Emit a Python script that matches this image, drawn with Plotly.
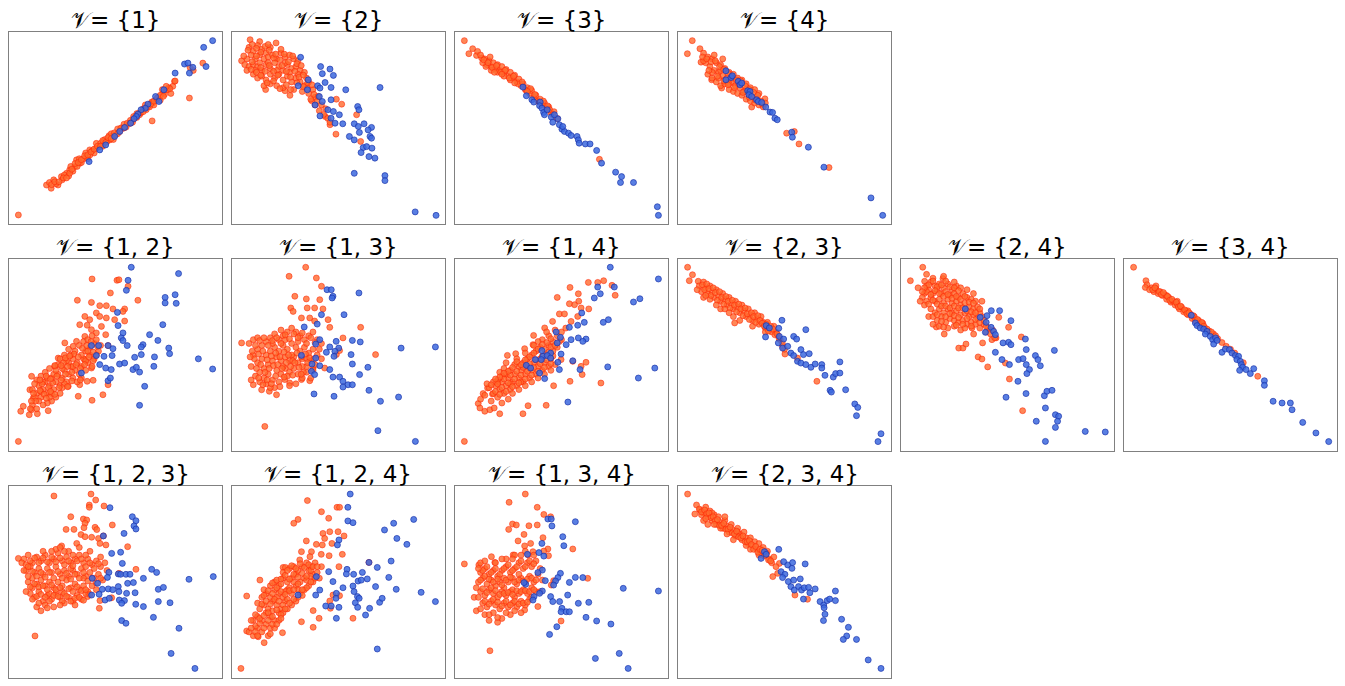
import plotly.graph_objects as go
from plotly.subplots import make_subplots

# panel titles, in grid order
TITLES = ["𝒱= {1}", "𝒱= {2}", "𝒱= {3}", "𝒱= {4}",
          "𝒱= {1, 2}", "𝒱= {1, 3}", "𝒱= {1, 4}", "𝒱= {2, 3}", "𝒱= {2, 4}", "𝒱= {3, 4}",
          "𝒱= {1, 2, 3}", "𝒱= {1, 2, 4}", "𝒱= {1, 3, 4}", "𝒱= {2, 3, 4}"]

# points, [x, y] on a 0-100 scale per panel
V1_ORANGE = [[17.6,20.3],[19,21.6],[19.8,18.6],[23,20.3],[24.6,24.7],[27,26.4],[28.5,28.2],[30.9,29.9],[33.2,31.6],[31.7,33.4],
             [36.3,35.1],[37.9,38.6],[41,39.5],[42.6,40.3],[44.2,42.9],[47.3,43.8],[48.8,45.6],[52,48.2],[53.5,49.9],[56.6,52.5],
             [58.2,54.3],[61.3,56.9],[64.4,59.5],[67.5,63],[69.1,64.7],[72.2,68.2],[74.6,69.9],[76.9,71.7],[77.7,74.3],
             [21,23],[22,21],[25,23],[26,25.5],[28,25],[29,30],[30,27.5],[32,30],[33,34],[34,32],[35,34],[36,37],[37,34],
             [38,36],[39,38],[40,37],[41,42],[43,42],[44,40.5],[45,44],[46,43],[47,46],[48,47],[49,44],[50,46.5],[51,49.5],
             [53,50],[54,52],[55,50.5],[57,54],[58,53],[59,55.5],[60,57.5],[62,58],[63,60],[64,62],[66,61],[67,63.5],[68,62],
             [70,66],[71,64.5],[73,67.5],[75,71],[76,68],[72,70],
             [20,20.5],[21.5,22],[23.5,22],[25.5,24],[27,24],[28.5,26.5],[29.5,28.5],[31,31.5],[32.5,32],[34,33.5],[35.5,35.5],
             [37,36],[38.5,37.5],[40,39],[41.5,40.5],[43,40.5],[44,43.5],[45.5,42.5],[46.5,45],[48,44.5],[49.5,47.5],[51,47],
             [52.5,50],[54,50],[55.5,52.5],[57,52.5],[58.5,56],[60,55.5],[61.5,58],[63,58.5],[65,61],[66.5,62.5],[68,64],
             [69.5,65.5],[71,67],[72.5,66.5],[74,70],[75.5,70.5],
             [4.4,4.7],[84.7,65.6],[67.2,53.7],[91,83.8],[86.5,80],[85,81.5],[78,74.5],[73.8,71.7]]
V1_BLUE = [[95.6,95.5],[91.4,92],[92.5,82],[84.7,78.6],[78,78.6],[82.4,83.3],[84,83.8],[86.3,81.6],[72.7,69.9],[70.4,63.8],
           [68.8,66.4],[65.2,62.4],[64,60.3],[62,59.5],[60.5,57.2],[59.8,56],[58.7,54.8],[57.1,52.5],[54.3,50.3],[52,48.2],
           [49.6,45.6],[45.4,41.2],[42.6,38.6],[37.6,32.5]]

V2_ORANGE = [[4.5,85],[8.5,96],[13,95],[20.7,94.3],[15.8,70],[27.2,67],[24.9,69.4],[49,65],[51.5,62.4],[58.5,56.9],
             [48.8,46.8],[60.4,43],[46,51.7],[43.7,56],[39,62],[37.4,64.2],
             [8,92],[10,90],[12,93],[14,91],[16,89],[18,92],[9,88],[11,86],[13,88],[15,86],[17,87],[19,88],[21,86],[23,89],
             [25,87],[27,88],[29,86],[31,85],[7,86],[6,83],[8,82],[10,83],[12,82],[14,80],[16,83],[18,81],[20,84],[22,82],
             [24,80],[26,83],[28,81],[30,82],[32,80],[34,79],[10,78],[12,76],[14,77],[16,75],[18,78],[20,76],[22,78],[24,75],
             [26,77],[28,74],[30,76],[32,74],[34,72],[36,74],[15,72],[18,73],[21,72],[24,71],[29,70],[33,69],[36,68],[38,70],
             [39,66],[40,64],[42,62],[37,65],[41,59],[43,57],[45,55],[44,60],[46,53],[11,80],[13,84],[17,84],[21,80],[25,84],
             [27,79],[31,78],[35,76],
             [7.5,90.5],[9.5,93.5],[11.5,91.5],[13.5,89.5],[15.5,92.5],[17.5,90.5],[19.5,86.5],[22.5,85.5],[24.5,88.5],
             [26.5,84.5],[28.5,87.5],[30.5,83.5],[32.5,82.5],[9.5,84.5],[11.5,87.5],[13.5,81.5],[15.5,79.5],[17.5,82.5],
             [19.5,79.5],[21.5,77.5],[23.5,82.5],[25.5,79.5],[27.5,76.5],[29.5,79.5],[31.5,76.5],[33.5,77.5],[35.5,73.5],
             [37.5,72.5],[11.5,79],[13.5,77.5],[16.5,73.5],[19.5,74.5],[22.5,70.5],[25.5,72.5],[27.5,70],[30.5,73.5],
             [33.5,71.5],[35.5,70.5],[38.5,67.5],[40.5,66.5],[5.5,87.5],[7,80],[9,80.5],[20.5,88.5],[23,91],[17,93.5]]
V2_BLUE = [[32.2,86.8],[41.6,82],[46,80.7],[42.4,78.3],[43.7,73.7],[47.6,77.4],[53.4,69.9],[69.5,71.1],[35.8,75.1],[31.1,72],
           [40.2,72],[41.3,70.8],[35.4,69.9],[46.5,71.1],[41,66.4],[46.5,64.7],[39,62],[42.4,63.8],[45,59.5],[47.6,58.6],
           [41.3,56.3],[46.5,55.1],[50.4,56.9],[59,61.2],[59.6,59.5],[48.4,52.5],[52,52.2],[57.4,52.2],[59.3,50.8],[62,52.2],
           [65.5,50.3],[63.9,49],[55.1,45.6],[59.8,47.7],[64.8,45.6],[65.5,44.7],[57.4,43.8],[61.6,39.8],[63.2,40.3],[65.7,39.5],
           [60.6,37.2],[64.3,35.1],[67.1,34.3],[57.4,26.4],[71.8,25.2],[71.8,22.6],[86,6.3],[95.8,4.5]]

V3_ORANGE = [[4.4,95.5],[6.5,88.7],[8.3,91.3],[10.1,87.8],[10.6,89.9],
             [14,86],[15,83],[16,85],[17,82],[18,84],[19,81],[20,83],[21,80],[22,82],[23,79],[24,80.5],[25,77],[26,79],[27,76],
             [28,77.5],[29,74],[30,75.5],[31,72],[32,73],[33,70],[34,71],[35,68],[36,69.5],[37,66],[38,67],[39,64],[40,65],
             [41,62],[42,63],[43,60],[44,61],[45,58],[14.5,82],[17,80],[20,79],[23,77],[26,75],[12.5,86.5],[13,84],
             [13.5,85.5],[15.5,84],[17.5,81.5],[19.5,82.5],[21.5,79],[23.5,80],[25.5,76],[27.5,77],[29.5,73],[31.5,74],
             [33.5,69.5],[35.5,70.5],[37.5,67.5],[39.5,63.5],[41.5,64],[43.5,61.5],[44.5,59.5],[46.5,58.5],[16.5,87],[12,88],
             [22,78],[28,73.5],[34,69],[18.5,79],
             [67.8,33.7],[48,55],[46,57]]
V3_BLUE = [[31.9,71.3],[33.5,66.8],[36.1,64.7],[37,63.5],[40,63.5],[39.7,61.6],[40.8,60.3],[41.6,58.1],[43.3,59.5],[45.2,55.7],
           [45.9,53],[48.3,54.8],[49,51.7],[50.2,49.4],[51.4,48.2],[53.3,47.3],[54.5,46.1],[57.3,45.6],[57.9,43.8],[58.3,42.1],
           [61.2,41.7],[63.4,41.7],[66.5,38.3],[68.8,31.7],[75.4,27],[78.2,24.7],[77.7,21.6],[83.8,21.6],[95,9],[95.5,4.5],
           [42,56.9],[50.6,50.8],[46.7,56.9]]

V4_ORANGE = [[6.7,95.5],[4.4,88.7],[10.3,91.3],[10.8,84.3],[15.8,75.1],[20.5,70.8],[34.6,60.9],[40.8,65.2],[51,47.3],
             [54.6,48.2],[56.8,41.7],[70.9,29.4],
             [12,89],[14,87],[16,86],[18,84],[20,83],[22,81],[24,79],[26,78],[28,76],[30,75],[32,73],[34,71],[36,70],[38,68],
             [13,84],[15,82],[17,80],[19,79],[21,77],[23,76],[25,74],[27,72],[29,71],[31,69],[33,68],[35,66],[14,78],[16,76],
             [18,74],[20,72],[22,73],[24,70],[26,69],[28,68],[30,67],[32,65],[34,64],[36,63],[38,62],[40,61],[16,79],[19,76],
             [22,75],[25,77],[29,73],[12,85],[17,88],[21,86],[37,65],[39,64],[41,63],[11.5,87],[20,80],[24,73],[28,74],[32,70],
             [13.5,86],[15.5,84.5],[17.5,85],[19.5,82],[21.5,80.5],[23.5,78.5],[25.5,76],[27.5,75],[29.5,74.5],[31.5,72],
             [33.5,70],[35.5,68.5],[37.5,67],[14.5,80],[18.5,77],[21.5,74.5],[23.5,72.5],[26.5,71],[30.5,68.5],[33.5,66],
             [36.5,64.5],[39.5,62.5]]
V4_BLUE = [[22.5,79.8],[22.5,75.1],[24.9,76.3],[25.5,77.2],[28.3,74.3],[29.1,72.5],[29.9,73.4],[32.7,69.4],[33.8,69],
           [33.3,67.3],[36.9,64.7],[37.7,63.8],[39.3,63.3],[41.2,60.9],[43.2,58.3],[44.4,58.1],[45.5,55.1],[46.6,54.3],
           [53.4,47.8],[53.7,45.2],[61.2,40],[68.5,29.6],[90.6,13.6],[96.1,4.5],[34.6,66.4]]

V12_ORANGE = [[4.4,5],[5.5,20.7],[6.7,23.3],[9.5,18.9],[10.6,21.5],[13.3,19.4],[18.4,21],[9.8,31.9],[10.6,38.9],[11.4,27.6],
              [39,89.6],[50.7,88.9],[51.6,89.2],[55.9,85.8],[47.6,82.3],[32.1,78.5],[38.7,77.4],[42.6,75.7],[45.7,75.7],
              [48.8,74],[54.3,74],[53.5,72.7],[60.5,78.5],[41,71.9],[35.6,70.1],[37.9,68.4],[42.6,70.1],[45.7,69.3],[49.6,68.4],
              [54.3,67.7],[33.2,65.8],[36.7,65.5],[43.4,64.9],[38.7,63.2],[41,61.5],[45.4,60.6],[35.6,59.7],[31.7,57.1],
              [26.2,56.3],[30.1,54.5],[23.1,48.4],[21.5,44.1],[35.6,47.6],[38.7,43.2],[39.5,36.8],[36.7,36.3],[32.5,28.5],
              [39,26.4],[44.1,29.3],[46.5,34.5],[33.2,34.5],[27.8,33.7],[46.5,54.9],
              [13,30],[15,28],[14,34],[16,32],[18,30],[17,36],[19,34],[21,32],[20,38],[22,36],[24,34],[23,40],[25,38],[27,36],
              [26,42],[28,40],[30,38],[29,44],[31,42],[33,40],[32,46],[34,44],[36,42],[35,48],[37,46],[39,44],[38,50],[40,48],
              [34,50],[36,52],[38,54],[40,56],[42,52],[30,48],[28,46],[26,35],[24,30],[22,28],[20,26],[18,25],[16,24],[14,26],
              [12,28],[11,32],[13,37],[15,39],[17,41],[19,43],[21,40],[23,45],[25,43],[27,47],[29,50],[31,52],[33,55],[35,57],
              [37,58],[39,60],[41,58],[43,55],[11,24],[10,22],[13,22],[16,36],[18,38],[20,30],[22,42],[24,48],[26,50],[28,53],
              [32,36],[34,38],[36,47],[41,50],[37,52],[30,44],[25,33],[19,28],[15,31],[12,35],
              [12.5,26],[14.5,31.5],[16.5,29.5],[18.5,33],[17.5,27.5],[20.5,35.5],[21.5,29.5],[23.5,33],[22.5,39],[24.5,37],
              [26.5,40],[25.5,46],[27.5,44],[29.5,41],[31.5,45],[33.5,43],[35.5,45],[30.5,50.5],[32.5,49],[34.5,53.5],
              [36.5,55],[38.5,57],[39.5,51.5],[37.5,49],[33.5,37],[29.5,36.5],[27.5,33.5],[19.5,31],[15.5,35],[14.5,37],
              [17.5,39],[19.5,37.5],[21.5,44.5],[26.5,48.5],[28.5,49.5],[41.5,54.5],[39.5,47],[24.5,44.5],[11.5,30],[10.5,26]]
V12_BLUE = [[57.4,95.7],[79.6,92.4],[55.9,88.9],[55.1,83.7],[73.3,80],[78,81.4],[73.3,77.1],[78.5,76.9],[50.9,72.2],[72.2,65.8],
            [51.2,65.3],[53.5,61.5],[52.7,58.9],[53.5,57.5],[66,60.6],[69.9,57.6],[38.7,54.9],[42.1,54.9],[46.5,54.9],
            [48.8,53.3],[55.5,54.9],[62.9,55.4],[62.1,54.2],[75,53.6],[75.4,50.7],[41,49.7],[44.6,49.3],[48.4,49.7],[59,48.8],
            [62.1,50.2],[68.3,49],[88.9,48],[95.6,42.7],[42.6,45],[45.4,43.2],[48,42.4],[51.9,45.3],[54.3,45.8],[58.2,42.4],
            [59.8,43.6],[61.3,41.1],[68,44.1],[34,40.6],[46.5,36.6],[47.6,38],[63.7,33.7],[61.3,23.8]]

V13_ORANGE = [[4.5,56.3],[34.6,95.7],[26.8,91],[39.6,90.1],[42,85.8],[29.5,80.6],[34.9,79.2],[41.2,78.8],[38.8,74.5],
              [35.3,74.5],[27.6,74.5],[28.7,72.7],[42.7,74],[45.1,68.4],[36.5,69.3],[32.6,69.3],[38.8,67.7],[45.9,64.4],
              [60.4,64.4],[52.1,58.9],[67.4,50.2],[49,50.2],[50.5,52.3],[15.4,12.8],[10,34.5],[13.9,31.9],[17.5,31.1],
              [20.9,29.3],[24.8,37.2],[27.1,35.4],[32.6,37.2],[36.5,36.6],[43.5,43.2],[38.1,43.2],
              [10,50],[12,53],[14,55],[16,57],[18,59],[20,61],[22,58],[24,60],[26,62],[28,64],[30,62],[32,60],[34,58],[36,60],
              [38,62],[40,58],[42,56],[12,46],[14,48],[16,50],[18,52],[20,54],[22,52],[24,55],[26,53],[28,56],[30,54],[32,52],
              [34,54],[36,51],[38,53],[40,50],[42,48],[13,41],[15,43],[17,45],[19,47],[21,49],[23,47],[25,49],[27,47],[29,49],
              [31,46],[33,48],[35,44],[37,47],[39,45],[11,39],[13,36],[15,38],[17,40],[19,37],[21,42],[23,40],[25,43],[27,41],
              [29,43],[31,40],[33,38],[35,41],[37,38],[9,44],[8,56],[10,58],[20,33],[22,36],[26,39],[30,35],[18,33],[16,35],
              [24,44],[28,50],[19,56],[23,63],[31,57],[35,48],[9,37],[12,59],[25,58],[33,44],[38,42],[27,34],
              [11,55],[13,57.5],[15,59],[17,55],[19,57.5],[21,59],[23,56],[25,60.5],[27,58.5],[29,61],[31,59],[33,61.5],
              [35,56],[37,59],[39,56.5],[41,53],[10.5,48],[12.5,50.5],[14.5,52],[16.5,47.5],[18.5,49.5],[20.5,51],[22.5,49],
              [24.5,51.5],[26.5,50],[28.5,47],[30.5,51],[32.5,49],[34.5,50.5],[36.5,48.5],[38.5,48],[11.5,43],[13.5,45],
              [15.5,41],[17.5,43],[19.5,44.5],[21.5,45],[23.5,43],[25.5,46],[27.5,44],[29.5,46],[31.5,43.5],[33.5,41],
              [35.5,46],[12.5,38],[16.5,37],[20.5,39],[24.5,38.5],[28.5,39.5],[32.5,40],[18.5,35],[22.5,33.5],[14.5,34.5],
              [9.5,52],[8.5,49]]
V13_BLUE = [[44.6,84],[46.6,84],[47.4,80.6],[47,79.7],[59.6,82.3],[52.6,71],[42,71],[40,66.1],[33.9,64.6],[48.9,57.1],
            [56.5,57.6],[60.2,56.8],[41.2,58],[39.3,55.7],[45.9,54.2],[50.1,53.6],[48.3,51.9],[44.3,51.4],[55.9,50.2],
            [47.9,49.3],[32.6,49.8],[39.3,48.4],[37.6,45.3],[41.2,44.4],[45.9,42.4],[37.3,41.5],[38.8,39.8],[47.4,38.5],
            [50.5,38.5],[56.5,45.3],[63.8,43.6],[59.9,39.8],[52.1,36.3],[54.5,34.5],[56.5,34.5],[52.1,33.3],[64.3,31.6],
            [38.5,29.7],[47.9,28.5],[69.7,25.9],[78.2,28.1],[79.4,53.6],[95.5,54.2],[68.5,10.6],[86.1,5]]

V14_ORANGE = [[4.4,5],[10.9,24.7],[11.7,22.4],[14,20.7],[16.4,21.5],[18.4,22.4],[21,19.4],[31.9,19.4],[34.3,23.6],
              [42.8,23.8],[46.3,34],[54,36.3],[59.7,39.8],[61.5,46.2],[68.5,35.4],[20.2,35.8],[15.3,32.8],[13.2,29.9],
              [17.6,29.7],[24.6,49.8],[28.5,50.7],[32.7,53.3],[36.9,60.2],[42.1,64.1],[48,80],[54,85.2],[57.9,81.9],[58.1,78],
              [62.6,87.8],[67,87.8],[69.8,88.7],[73.7,86.3],[75.2,81.1],[62.8,74],[59.2,74.5],[56.1,76.2],[53.7,76.7],[49,71.4],
              [51.4,71.4],[45.8,67.5],[57.6,70.1],[54.5,67.5],[36.6,55.4],[32.7,43.6],[49.8,47.6],[55.3,46.7],[59.2,44.1],
              [18,30],[20,28],[19,34],[21,32],[23,30],[22,36],[24,34],[26,32],[25,38],[27,36],[29,34],[28,40],[30,38],[32,36],
              [31,42],[33,40],[35,38],[34,44],[36,42],[38,40],[37,46],[39,44],[41,42],[40,48],[42,46],[44,44],[43,50],[45,48],
              [46,52],[44,55],[42,53],[40,54],[38,52],[36,50],[34,48],[32,46],[30,44],[28,45],[26,42],[24,40],[22,39],[20,37],
              [18,36],[16,33],[15,35],[17,26],[22,25],[25,27],[27,30],[30,32],[33,34],[36,36],[39,38],[42,40],[45,42],[47,45],
              [46,57],[48,60],[44,60],[41,58],[39,57],[47,63],[50,62],[52,64],[50,58],[48,54],[43,62],[21,41],[24,46],[29,48],
              [33,51],[12,27],[14,29],[37,55],[35,43],[31,36],[26,35],[23,43],
              [19,31],[21,29.5],[20,35],[22,33],[24,31],[23,37.5],[25,35.5],[27,33.5],[26,39.5],[28,37.5],[30,35.5],[29,41.5],
              [31,39.5],[33,37.5],[32,43.5],[34,41.5],[36,39.5],[35,45.5],[37,43.5],[39,41.5],[38,47.5],[40,45.5],[42,43.5],
              [41,49.5],[43,47.5],[45,45.5],[44,51.5],[46,49.5],[45,54],[43,56.5],[41,55.5],[39,53],[37,51],[35,49],[33,47.5],
              [31,45],[29,46.5],[27,43.5],[25,41.5],[23,40.5],[21,38.5],[19,37.5],[17,34.5],[47,55],[49,57],[45,58.5]]
V14_BLUE = [[72.9,95.7],[95.5,89.6],[67,85.4],[74.8,85.4],[65.4,79.7],[68.2,81.9],[86.8,79.3],[83.8,77.6],[59.5,71.9],
            [60.7,67],[72,68.4],[69.6,67],[53.7,64.4],[57.6,65.5],[47.5,62],[49.5,59.2],[48,56.3],[54.5,58],[57.9,58.9],
            [61.5,58.3],[60,57.1],[52.2,55.4],[40.8,52.3],[44.9,51],[41.3,49.3],[43.3,49.7],[49.8,50.5],[37.7,47.6],
            [40.5,47.6],[44.9,48.4],[33.5,44.6],[35.5,43.2],[39.7,40.6],[48.3,46.2],[55.3,47],[49,42.4],[42.1,37.7],
            [58.7,42.4],[71.7,43.8],[93.8,43.2],[86.1,38],[53,25.5]]

V23_ORANGE = [[4.5,95.7],[6.8,91.8],[5.3,88.7],[9.5,88.4],[26.6,66.7],[49.1,54.5],[65.2,36.3],[50.2,50.5],[56.1,48.4],
              [10,86],[11,83],[12,88],[13,85],[14,82],[15,86],[16,83],[17,80],[18,84],[19,81],[20,78],[21,82],[22,79],[23,76],
              [24,80],[25,77],[26,74],[27,78],[28,75],[29,72],[30,76],[31,73],[32,70],[33,74],[34,71],[35,68],[36,72],[37,69],
              [38,66],[39,70],[40,67],[41,64],[42,67],[43,64],[44,62],[45,65],[46,62],[47,60],[48,58],[12,80],[20,74],[26,70],
              [9,84],[15,79],[22,74],[29,68],[35,65],[41,62],[49,56],[50,53],
              [11.5,86.5],[12.5,84],[13.5,87],[14.5,84.5],[15.5,81],[16.5,85],[17.5,82.5],[18.5,78.5],[19.5,83],[20.5,80],
              [21.5,76.5],[22.5,80.5],[23.5,78],[24.5,74.5],[25.5,78.5],[26.5,76],[27.5,72.5],[28.5,76.5],[29.5,74],
              [30.5,70.5],[31.5,74.5],[32.5,71.5],[33.5,68.5],[34.5,72],[35.5,70],[36.5,67],[37.5,70.5],[38.5,68],
              [39.5,66.5],[40.5,65],[41.5,66],[42.5,62.5],[43.5,65],[44.5,63.5],[45.5,60.5],[46.5,61],[47.5,58.5],[13,81],
              [18,76],[24,72]]
V23_BLUE = [[48.8,68.1],[60,63.2],[41.4,65.3],[42.9,64.1],[47.3,63.9],[41.1,59.4],[47.6,59.7],[49.6,58.3],[54.3,59.7],
            [55.7,58.3],[47.1,56.3],[49.1,53.6],[51.5,54.5],[53,51],[54.3,49.7],[57.7,52.8],[58.9,50.2],[61.6,50.7],
            [56.1,46.7],[57.7,45.8],[60,45],[62.4,43.6],[64.4,45.3],[67.5,45],[67.5,43.2],[76,46.4],[69,39.4],[72.9,38.5],
            [74,40.3],[76,40.6],[71.4,31.6],[72,30.7],[78.7,31.9],[83,24.5],[84.4,22.7],[83.8,18.4],[95.3,9],[93.9,4.9]]

V24_ORANGE = [[4.4,88.7],[10.2,95.7],[11.1,88.4],[19.7,89.8],[16.6,64.6],[20.3,60.9],[27.1,53.6],[29.1,53.6],[30.5,55.7],
              [36.2,49],[38,47.9],[40.7,43.8],[50.5,64.4],[45.9,69.6],[56.5,59.4],[49,45.8],[50.9,37.5],[57.1,21],[34.1,60.9],
              [33.3,64.1],[38.3,56.3],[42.7,58],[44.6,58.9],
              [12,86],[14,88],[16,86],[18,87],[20,85],[22,87],[24,84],[26,86],[11,82],[13,84],[15,82],[17,84],[19,82],[21,83],
              [23,81],[25,82],[27,80],[29,82],[31,80],[33,79],[35,78],[12,78],[14,80],[16,78],[18,79],[20,77],[22,79],[24,77],
              [26,78],[28,76],[30,77],[32,75],[34,74],[36,75],[14,74],[16,72],[18,74],[20,72],[22,74],[24,72],[26,73],[28,71],
              [30,72],[32,70],[34,71],[36,69],[38,70],[17,68],[19,70],[21,67],[23,69],[25,68],[27,67],[29,68],[31,66],[33,67],
              [35,66],[37,64],[39,66],[41,64],[40,62],[42,61],[43,63],[10,80],[11,76],[13,70],[15,66],[18,65],[22,64],[25,65],
              [28,63],[30,64],[8,85],[9,78],[12,92],[15,90],[20,91],[25,88],[28,85],[31,84],[34,82],[37,72],[38,78],[44,59],
              [13,86.5],[15,88.5],[17,85.5],[19,86.5],[21,88.5],[23,85.5],[25,85],[27,83.5],[12,83],[14,81.5],[16,83.5],[18,82],
              [20,80.5],[22,81.5],[24,79.5],[26,80.5],[28,79],[30,80.5],[32,77.5],[34,77],[13,76.5],[15,78.5],[17,76.5],
              [19,75.5],[21,75.5],[23,74.5],[25,75.5],[27,74.5],[29,74.5],[31,73],[33,72.5],[35,72],[37,74],[15,70],[17,71],
              [19,67.5],[21,70],[23,71.5],[25,70.5],[27,69.5],[29,66],[31,69],[33,65],[35,68.5],[37,67],[39,68],[40,65],
              [20,64.5],[26,65.5],[11,85],[10,83]]
V24_BLUE = [[30.2,74],[37.2,69.6],[40.4,70.5],[42.4,73.1],[46.3,73.1],[40,67],[42.3,64.4],[39.6,61.8],[43.5,62.3],
            [44.3,60.6],[51.6,67.9],[58.4,58.3],[50.5,56.6],[47.9,56.3],[51.6,55.4],[58.8,52.8],[72,52.4],[44.3,51.4],
            [47.4,47.6],[55.2,47.6],[57.3,48.1],[58.8,45],[63.1,49.7],[64.3,47.6],[65.4,44.4],[50.9,45],[60.3,42.4],
            [59.1,40.3],[54.9,36.3],[58.7,29.9],[49.3,28],[67.3,28.8],[68.5,31.1],[70.9,31.6],[67.8,22.4],[72.5,18.9],
            [74,18.1],[73.5,15.5],[72.5,12.3],[63.5,15.5],[67.8,5],[86.5,10.2],[95.9,9.9]]

V34_ORANGE = [[4.5,95.7],[10.3,88.7],[10.8,86.6],[10,85.2],
              [13,85],[14,83],[15,84.5],[16,82],[17,83],[18,81],[19,81.5],[20,79],[21,80],[22,77.5],[23,78],[24,76],[25,76.5],
              [26,74],[27,75],[28,72.5],[29,73],[30,71],[31,71.5],[32,69],[33,70],[34,67.5],[35,68],[36,66],[37,66.5],[38,64],
              [40,62.5],[42,61],[44,58.5],[46,56.5],[48,54.5],[50,53],[52,51],[15,86],[12,84],[20,81],[25,78],[30,73],[35,66],
              [13.5,84],[14.5,85],[16.5,83],[17.5,81.5],[18.5,82.5],[20.5,80.5],[21.5,78.5],[22.5,79],[24.5,77.5],[25.5,75],
              [26.5,75.5],[28.5,73.5],[29.5,71.5],[30.5,72],[32.5,70.5],[33.5,68],[34.5,68.5],[36.5,67],[37.5,65],[39,63.5],
              [41,62],[43,60],
              [62.8,38.9],[56,46]]
V34_BLUE = [[31.6,70.7],[33.5,66.7],[34.3,65.3],[35.8,64.1],[37.4,63.5],[39,62.3],[38.2,60.9],[40.5,59.7],[41.6,58],
            [43,58.9],[42.1,55.7],[43.7,57.6],[46,51.4],[47.6,53.1],[49.5,52.8],[50.7,51],[52.3,49.7],[53.8,49.3],[53,47.6],
            [54.6,46.7],[55.1,45],[55.7,43.6],[54.3,42],[57.3,42.4],[59.3,40.3],[60.9,42.9],[65.9,36.6],[65.9,34.2],
            [70,25.9],[74.2,25],[78.1,25],[78.9,21.5],[83.9,14.9],[90.1,9.4],[96.1,4.9]]

V123_ORANGE = [[21.1,94.8],[38.5,95.8],[40.7,92.7],[37.7,90.1],[37.7,88.9],[44.6,89.6],[29,84],[34.9,82.8],[36.5,82.3],
               [35.7,80.6],[35.2,78.3],[26.8,77.4],[30.5,77.4],[40.4,78.5],[41.2,77.3],[48.5,79.7],[33.8,74.7],[35.7,73.6],
               [38.8,73.3],[42,72.7],[44.3,74],[42.7,70.1],[45.5,69.3],[55.7,68.4],[31.8,70.1],[24.7,68.8],[4.4,62.3],
               [12.2,21.9],[42.4,36.3],[42.7,40.3],[59.6,56.6],[51.6,54.5],[36.9,42.4],[48.2,41.8],
               [7,62],[9,64],[11,60],[13,63],[15,61],[17,64],[19,60],[21,62],[23,65],[25,61],[27,63],[29,60],[31,62],[33,64],
               [35,60],[37,62],[39,59],[41,61],[43,58],[45,60],[8,56],[10,58],[12,55],[14,57],[16,54],[18,57],[20,55],[22,58],
               [24,54],[26,56],[28,53],[30,56],[32,54],[34,57],[36,53],[38,55],[40,52],[42,54],[44,51],[9,50],[11,52],[13,49],
               [15,51],[17,48],[19,50],[21,47],[23,50],[25,48],[27,51],[29,47],[31,49],[33,46],[35,48],[37,45],[39,48],[41,46],
               [10,44],[12,42],[14,45],[16,40],[18,43],[20,41],[22,44],[24,42],[26,39],[28,42],[30,40],[32,43],[34,41],[36,44],
               [13,37],[15,35],[17,38],[21,37],[31,38],[28,66],[22,67],[16,66],[33,68],[38,66],[8,45],[6,60],[25,45],[19,44],
               [43,63],[46,56],[11,47],[29,57],[35,52],
               [8,59],[10,61],[12,62.5],[14,60],[16,62.5],[18,60.5],[20,63],[22,60.5],[24,62.5],[26,59],[28,61],[30,58.5],
               [32,61],[34,62],[36,58],[38,60],[40,57],[42,59.5],[9,53],[11,55.5],[13,53],[15,55],[17,52.5],[19,55],[21,52],
               [23,55.5],[25,52],[27,54.5],[29,51.5],[31,54],[33,52],[35,55],[37,50.5],[39,52],[41,49.5],[43,52],[10,47.5],
               [12,49],[14,47.5],[16,48],[18,46],[20,48.5],[22,46],[24,47],[26,44],[28,46.5],[30,45],[32,47.5],[34,45.5],
               [36,46],[38,43.5],[11,41],[13,42.5],[15,43.5],[17,42],[19,40],[21,43],[23,42.5],[25,40],[27,42.5],[29,40],
               [31,41.5],[33,42],[35,40.5],[14,39],[18,36.5],[24,38],[9,58],[7,56],[20,66],[26,66],[30,64],[36,64],[24,68]]
V123_BLUE = [[47.4,88.7],[57.9,84],[59.6,81.9],[58.7,79.2],[59.6,77.6],[54,75.3],[44.3,74],[48.2,64.9],[52.4,65.5],
             [53.2,59.7],[46.9,55],[51.3,54.2],[52.4,54],[54.9,54],[56.8,54],[63.1,51.9],[67,56.6],[69.3,55],[84.5,51.4],
             [95.9,52.8],[39.1,51.9],[41.6,49.3],[46.2,52.4],[55.7,49.3],[58.4,49.7],[43.8,46.2],[46.6,46.4],[48.7,46],
             [51.3,47.6],[51.6,45],[55.2,44.1],[59.2,44.4],[38.8,43.2],[42.3,43.6],[45.1,40.6],[47.1,41.5],[51.8,40.6],
             [54.2,40.3],[52.9,38.9],[59.5,38.4],[63.1,37.2],[70.1,46.2],[72.5,47.2],[70.1,39.8],[75.6,39.2],[67.8,31.6],
             [52.9,29.9],[54.9,28.5],[79.8,25.9],[76.1,12.8],[87.3,5]]

V124_ORANGE = [[4.2,5],[35.4,92.4],[49.3,88.9],[50.5,88.9],[42,86.6],[45.4,83.2],[31,82.6],[29,80.6],[52.6,74],[49.8,76.2],
               [45.9,76.2],[42.7,75.3],[43.5,72.7],[46.9,70.1],[34.9,71.4],[39.6,69.6],[42.4,69.3],[51.8,64.4],[45.6,63.7],
               [41.9,64.4],[37.3,65.8],[32.6,65.8],[36.6,63.2],[31.8,61.5],[50.2,58],[64.3,60.2],[24,57.6],[25.1,57.6],
               [13.1,51],[6.9,42.7],[56.8,31.1],[32.6,29.3],[38.1,26.4],[40.9,31.1],[38.1,35.1],[46.2,36.3],[45.9,40.1],
               [47.4,43.2],[50.5,42.9],[23.7,23.6],[15.1,18.4],[12.3,21.5],[6.9,24.5],
               [8,24],[10,22],[12,26],[14,24],[16,28],[18,26],[10,30],[12,32],[14,30],[16,34],[18,32],[20,30],[22,34],[13,36],
               [15,38],[17,36],[19,40],[21,38],[23,36],[25,40],[14,42],[16,44],[18,42],[20,46],[22,44],[24,42],[26,46],[28,44],
               [30,48],[18,48],[20,50],[22,48],[24,52],[26,50],[28,52],[30,54],[32,50],[34,52],[36,56],[38,54],[24,55],[27,57],
               [29,58],[31,56],[33,58],[35,60],[37,58],[39,60],[40,55],[38,50],[36,48],[34,46],[32,44],[30,40],[28,38],[26,36],
               [24,34],[22,30],[20,26],[17,22],[11,27],[9,30],[15,46],[12,39],[27,47],[33,43],[35,51],[41,52],[42,58],[25,45],
               [21,42],[19,35],[29,50],[31,46],[37,53],[23,49],
               [9,26],[11,24],[13,28.5],[15,26],[17,30],[19,28],[11,33],[13,31],[15,32.5],[17,34],[19,32],[21,35.5],[23,33],
               [14,38.5],[16,40],[18,38.5],[20,41],[22,40],[24,38],[26,41],[15,43],[17,45.5],[19,44],[21,47],[23,45],[25,43.5],
               [27,45.5],[29,46],[31,49],[19,49.5],[21,51],[23,51.5],[25,53.5],[27,51.5],[29,54],[31,52.5],[33,54.5],[35,53],
               [37,56],[26,56],[28,58.5],[30,57],[32,59.5],[34,57.5],[36,59],[38,58],[40,58],[39,52],[37,50],[35,47],[33,46],
               [31,42],[29,41],[27,39],[25,36],[23,31],[21,28],[18,23],[12,22]]
V124_BLUE = [[55.5,95.8],[54.4,88.9],[54.4,81.8],[56.8,80.9],[85.3,82.6],[75.9,80.6],[71.6,77.1],[77.4,72.7],[82.1,69.6],
             [50.2,71.9],[49.5,69.3],[64.3,60.2],[68.2,57.6],[74.7,60.9],[73.6,52.4],[54,56.6],[53.7,54.2],[57.1,54],
             [61.2,55],[45.4,55.4],[39.6,52.8],[47.4,50.2],[56.8,47.9],[59.2,50.5],[60.7,51],[63.5,51.6],[67.4,47.6],
             [77.1,46.2],[88.8,44.6],[95.5,39.8],[41.2,45.8],[49,44.1],[52.1,47],[57.3,45],[58.9,42.4],[59.7,41.5],[48.8,41.5],
             [57.9,39.2],[59,36.8],[64.6,36.3],[69.3,39.4],[70.5,41.5],[44,37.5],[46.6,37.5],[50.2,36.8],[49,31.1],[62.7,32.8],
             [68.2,15.1],[39.3,43.2],[31,43.2]]

V134_ORANGE = [[33,95.8],[25.4,91.5],[38.6,88.9],[41.7,85.2],[44.9,84],[27,80.2],[25.2,77.4],[28.8,79.7],[34.7,79.3],
               [38.6,79.7],[32.4,74.8],[29.6,71.4],[41.3,73.1],[32.7,68.8],[35.5,70.1],[43.6,67.2],[55.3,67.2],[41.7,66.1],
               [43.9,63.7],[27.3,64.1],[34.3,64.1],[36.6,65.8],[4.4,59.4],[11.2,58.9],[17.1,63.2],[18.7,60.2],[16.4,14.2],
               [49.8,29.7],[62.3,51.9],[46.3,50.7],[45.2,48.4],[38.9,37.2],[32.7,35.4],
               [12,55],[14,57],[16,54],[18,56],[20,53],[22,56],[24,58],[26,55],[28,57],[30,60],[32,57],[34,60],[36,58],[38,61],
               [11,50],[13,52],[15,49],[17,51],[19,48],[21,50],[23,47],[25,50],[27,52],[29,49],[31,52],[33,50],[35,53],[37,50],
               [39,54],[12,45],[14,43],[16,46],[18,44],[20,42],[22,45],[24,43],[26,45],[28,42],[30,44],[32,46],[34,44],[36,47],
               [38,45],[13,39],[15,37],[17,40],[19,38],[21,36],[23,39],[25,37],[27,39],[29,37],[31,40],[33,38],[35,41],[10,35],
               [14,33],[18,34],[22,31],[26,33],[16,30],[20,29],[24,62],[28,64],[33,66],[37,64],[40,57],[41,51],[9,42],[10,47],
               [12,60],[19,60],[23,52],[30,54],[36,42],[40,45],[27,46],[31,34],
               [13,56],[15,58],[17,55],[19,57],[21,54],[23,57],[25,59],[27,56],[29,58],[31,61],[33,58],[35,61],[37,59.5],
               [12,51],[14,53],[16,51.5],[18,50],[20,51.5],[22,48.5],[24,51],[26,52.5],[28,50],[30,51],[32,50.5],[34,51.5],
               [36,52],[38,51],[13,46.5],[15,44.5],[17,47],[19,45.5],[21,43.5],[23,44],[25,44.5],[27,43.5],[29,45.5],[31,45],
               [33,45.5],[35,45],[37,46],[14,40],[16,38.5],[18,41],[20,39.5],[22,37.5],[24,40],[26,38],[28,40],[30,38.5],
               [32,39],[34,39.5],[12,36],[16,33],[20,31.5],[24,34],[28,35],[11,42],[11,57],[14,61],[22,62],[27,62],[31,64]]
V134_BLUE = [[43.6,82.8],[45.2,82.8],[45.5,79.2],[56.5,81.4],[50.6,73.6],[51.1,68.9],[40.8,70.1],[39.4,65.3],[34,64.4],
             [41.7,63.5],[41,56.2],[38.9,54.9],[33.2,48.8],[49.5,54.5],[48.3,52.3],[47.2,50.5],[42.4,50.7],[53.7,49.8],
             [56.5,52.4],[60,52.3],[41,45.3],[46.3,48.4],[39.7,44.1],[37.1,42.4],[36.6,40.6],[44.9,42.4],[45.9,39.8],
             [49.1,39.8],[52.9,43.2],[50.2,36.3],[49.8,34.5],[52.2,34.5],[53.7,34.5],[57.9,38.9],[62.8,39.4],[61.5,31.6],
             [66.5,29.7],[73.2,28.1],[47.8,26.7],[44.4,22.7],[79,46.7],[95.5,45.3],[77.1,12.8],[65.9,10.2],[81.3,5],[32.4,49.7]]

V234_ORANGE = [[4.5,95.8],[8.7,90.1],[10.3,87.5],[7.9,85.4],[44.5,52.8],[46.8,54.5],[54.9,43.2],[60.8,41],[47.6,59.7],
               [10,88],[12,86],[13,89],[14,84],[15,87],[16,82],[17,85],[18,80],[19,84],[20,81],[21,78],[22,82],[23,79],[24,76],
               [25,80],[26,77],[27,74],[28,78],[29,75],[30,72],[31,76],[32,73],[33,70],[34,73],[35,69],[36,71],[37,67],[38,70],
               [39,65],[40,68],[41,64],[42,66],[43,62],[44,60],[45,63],[12,82],[14,80],[20,78],[26,72],[32,69],[38,64],[46,58],
               [11,85],[16,86],[22,84],[28,76],[34,67],
               [11,86.5],[12.5,87.5],[13.5,85.5],[14.5,86],[15.5,83.5],[16.5,84],[17.5,82],[18.5,82.5],[19.5,79.5],[20.5,79.5],
               [21.5,80.5],[22.5,77.5],[23.5,77.5],[24.5,78.5],[25.5,75.5],[26.5,75],[27.5,76.5],[28.5,73.5],[29.5,73],
               [30.5,74],[31.5,71],[32.5,71],[33.5,71.5],[34.5,69.5],[35.5,67],[36.5,68.5],[37.5,65.5],[38.5,67],[39.5,66.5],
               [40.5,63.5],[41.5,65],[42.5,61.5],[43.5,61],[13,83],[17,80],[23,75]]
V234_BLUE = [[47.3,67],[40.6,65.8],[41.4,64.4],[39,62.3],[51.5,58.9],[53.8,60.1],[53.5,57.1],[49.6,60.6],[59.7,59.4],
             [48.4,55.4],[50.2,54],[49.1,52.3],[51.8,50.2],[54.3,51],[57.4,51.6],[53,47.6],[54.6,45.8],[56.6,47.6],[58,45.8],
             [59.3,47],[61.3,47.2],[64.4,46.4],[61.9,44.4],[58.9,41.1],[66.7,39.8],[68.4,38],[70,40.3],[71.2,41.1],[73.9,45.3],
             [73.9,40.3],[68.6,36.6],[69,33.2],[68.3,29.9],[76.8,30.6],[80,26.4],[79.2,21.9],[77.6,20.1],[83.8,20.1],
             [89.3,9.4],[95.3,5]]

# (row, col, orange points, blue points)
PANELS = [(1, 1, V1_ORANGE, V1_BLUE), (1, 2, V2_ORANGE, V2_BLUE), (1, 3, V3_ORANGE, V3_BLUE), (1, 4, V4_ORANGE, V4_BLUE),
          (2, 1, V12_ORANGE, V12_BLUE), (2, 2, V13_ORANGE, V13_BLUE), (2, 3, V14_ORANGE, V14_BLUE),
          (2, 4, V23_ORANGE, V23_BLUE), (2, 5, V24_ORANGE, V24_BLUE), (2, 6, V34_ORANGE, V34_BLUE),
          (3, 1, V123_ORANGE, V123_BLUE), (3, 2, V124_ORANGE, V124_BLUE), (3, 3, V134_ORANGE, V134_BLUE),
          (3, 4, V234_ORANGE, V234_BLUE)]

full = [{} for _ in range(6)]
part = [{} for _ in range(4)] + [None, None]
fig = make_subplots(rows=3, cols=6, specs=[part, full, part], subplot_titles=TITLES,
                    horizontal_spacing=10 / 1328, vertical_spacing=35 / 646)

for row, col, orange, blue in PANELS:
    fig.add_trace(go.Scatter(
        x=[p[0] for p in orange], y=[p[1] for p in orange], mode="markers", showlegend=False,
        marker=dict(size=6, color="rgba(255,105,45,0.8)", line=dict(color="rgba(255,30,0,0.65)", width=0.8))),
        row=row, col=col)
    fig.add_trace(go.Scatter(
        x=[p[0] for p in blue], y=[p[1] for p in blue], mode="markers", showlegend=False,
        marker=dict(size=6, color="rgba(60,105,222,0.85)", line=dict(color="rgba(25,50,170,0.85)", width=0.8))),
        row=row, col=col)
    fig.update_xaxes(range=[0, 100], row=row, col=col)
    fig.update_yaxes(range=[0, 100], row=row, col=col)

fig.update_xaxes(showgrid=False, zeroline=False, showticklabels=False, ticks="",
                 showline=True, mirror=True, linecolor="#808080", linewidth=1)
fig.update_yaxes(showgrid=False, zeroline=False, showticklabels=False, ticks="",
                 showline=True, mirror=True, linecolor="#808080", linewidth=1)
fig.update_annotations(font=dict(family="DejaVu Sans", size=23, color="black"), yshift=-3)

fig.update_layout(width=1345, height=686, margin=dict(l=9, r=8, t=32, b=8),
                  plot_bgcolor="white", paper_bgcolor="white")
# page body margin would push the figure off the window
fig.write_html("out.html", config={"displayModeBar": False},
               post_script="document.body.style.margin='0';")
